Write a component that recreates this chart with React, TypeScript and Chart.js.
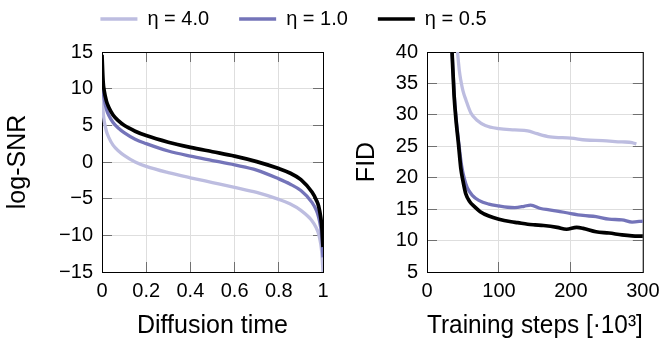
import React, { useEffect, useRef } from 'react';
import { Chart, registerables } from 'chart.js';

Chart.register(...registerables);

// ---------- data ----------
const legendLabels = ['η = 4.0', 'η = 1.0', 'η = 0.5'];
const seriesColors = ['#bdbde0', '#7474b9', '#000000'];
const seriesWidths = [3.3, 3.3, 3.7];

// left panel: log-SNR vs diffusion time
const timeSteps = [0, 0.005, 0.01, 0.02, 0.03, 0.05, 0.075, 0.1, 0.15, 0.2, 0.3, 0.4, 0.5, 0.6, 0.7, 0.8, 0.85, 0.9, 0.95, 0.97, 0.98, 0.99, 0.995, 1];
const logSnrEta4 = [10.3, 7.0, 5.6, 4.2, 3.4, 2.3, 1.5, 0.9, 0.0, -0.6, -1.45, -2.15, -2.8, -3.45, -4.15, -5.1, -5.7, -6.6, -8.0, -9.0, -9.8, -11.2, -12.5, -15];
const logSnrEta1 = [12.5, 9.8, 8.6, 7.2, 6.4, 5.4, 4.6, 4.0, 3.1, 2.5, 1.5, 0.8, 0.2, -0.4, -1.1, -2.3, -3.0, -3.9, -5.5, -6.6, -7.5, -9.0, -10.5, -13];
const logSnrEta05 = [14.6, 11.0, 9.7, 8.3, 7.5, 6.4, 5.6, 5.0, 4.2, 3.6, 2.7, 2.0, 1.4, 0.8, 0.05, -0.9, -1.5, -2.4, -4.1, -5.2, -6.0, -7.6, -9.0, -11.6];

// right panel: FID vs training steps (x 10^3)
const fidStepsEta4 = [40.5, 42.5, 45, 47, 50, 54, 61, 70, 81, 100, 122, 140, 153, 171, 200, 221, 244, 271, 285, 291];
const fidEta4 = [44, 40, 37, 35.5, 33.8, 32.4, 30.3, 29.1, 28.3, 27.8, 27.6, 27.45, 27.0, 26.5, 26.3, 26.0, 25.9, 25.7, 25.6, 25.35];
const fidStepsEta1 = [33.5, 34.9, 37.8, 40.6, 44.5, 48, 52, 56, 63, 72, 86, 100, 112, 122, 135, 144, 158, 170, 181, 200, 217, 235, 253, 271, 285, 300];
const fidEta1 = [43, 40, 33.3, 29.3, 25.2, 22, 19.8, 18.4, 17.2, 16.4, 15.8, 15.5, 15.3, 15.25, 15.45, 15.65, 15.1, 14.9, 14.7, 14.3, 14.0, 13.8, 13.4, 13.3, 12.95, 13.1];
const fidStepsEta05 = [33.5, 34.8, 37.6, 40.3, 43.9, 47, 50, 54, 60, 65, 74, 86, 100, 117, 126, 140, 150, 162, 181, 194, 208, 217, 235, 253, 271, 285, 300];
const fidEta05 = [43, 40, 33.2, 29.2, 25.2, 21.5, 19.5, 17.4, 16.1, 15.5, 14.6, 13.9, 13.4, 13.0, 12.85, 12.6, 12.5, 12.4, 12.1, 11.8, 12.1, 11.95, 11.4, 11.2, 10.9, 10.75, 10.7];

const FONT = "'Liberation Sans', Arial, Helvetica, sans-serif";
Chart.defaults.font.family = FONT;
Chart.defaults.color = '#000';

const frameTicksPlugin = {
  id: 'frameTicks',
  beforeDatasetsDraw(chart: any) {
    const { ctx, chartArea } = chart;
    const { left, right, top, bottom } = chartArea;
    const xs = chart.scales.x;
    const ys = chart.scales.y;
    const L = 10;
    ctx.save();
    ctx.lineWidth = 1;
    ctx.strokeStyle = '#707070';
    ctx.beginPath();
    xs.ticks.forEach((t: any) => {
      const px = Math.round(xs.getPixelForValue(t.value) - 0.5) + 0.5;
      if (px <= left + 1 || px >= right - 1) return;
      ctx.moveTo(px, bottom);
      ctx.lineTo(px, bottom - L);
      ctx.moveTo(px, top);
      ctx.lineTo(px, top + L);
    });
    ys.ticks.forEach((t: any) => {
      const py = Math.round(ys.getPixelForValue(t.value) - 0.5) + 0.5;
      if (py <= top + 1 || py >= bottom - 1) return;
      ctx.moveTo(left, py);
      ctx.lineTo(left + L, py);
      ctx.moveTo(right, py);
      ctx.lineTo(right - L, py);
    });
    ctx.stroke();
    ctx.strokeStyle = '#000';
    ctx.lineWidth = 1;
    ctx.strokeRect(left + 0.5, top + 0.5, right - left, bottom - top);
    ctx.restore();
  },
};

const fmtSigned = (v: any) => {
  const n = Number(v);
  return n < 0 ? '\u2212' + Math.abs(n) : String(n);
};

function makeDatasets(xsArr: number[][], ysArr: number[][], clip: any) {
  return ysArr.map((ys, i) => ({
    label: legendLabels[i],
    data: ys.map((v, j) => ({ x: xsArr[i][j], y: v })),
    borderColor: seriesColors[i],
    backgroundColor: seriesColors[i],
    borderWidth: seriesWidths[i],
    borderJoinStyle: 'round' as const,
    pointRadius: 0,
    cubicInterpolationMode: 'monotone' as const,
    fill: false,
    order: 3 - i,
    clip,
  }));
}

function panelOptions(p: {
  xMin: number; xMax: number; xStep: number; xFmt: (v: any) => string; xTitle: string;
  yMin: number; yMax: number; yStep: number; yTitle: string;
  yWidth: number; padRight: number; yTitlePad: number;
}) {
  return {
    responsive: false,
    animation: false as const,
    events: [],
    layout: { padding: { top: 0, right: p.padRight, left: 0, bottom: 0 } },
    plugins: { legend: { display: false }, tooltip: { enabled: false } },
    scales: {
      x: {
        type: 'linear' as const,
        min: p.xMin,
        max: p.xMax,
        afterFit: (s: any) => { s.height = 71; },
        ticks: {
          stepSize: p.xStep,
          padding: 7.5,
          maxRotation: 0,
          autoSkip: false,
          color: '#000',
          font: { size: 20, family: FONT },
          callback: p.xFmt,
        },
        grid: { color: '#dedede', lineWidth: 1, drawTicks: false },
        border: { display: false },
        title: {
          display: true,
          text: p.xTitle,
          color: '#000',
          font: { size: 25, family: FONT },
          padding: { top: 0, bottom: 2 },
        },
      },
      y: {
        type: 'linear' as const,
        min: p.yMin,
        max: p.yMax,
        afterFit: (s: any) => { s.width = p.yWidth; },
        ticks: {
          stepSize: p.yStep,
          padding: 9,
          color: '#000',
          font: { size: 20, family: FONT },
          callback: fmtSigned,
        },
        grid: { color: '#dedede', lineWidth: 1, drawTicks: false },
        border: { display: false },
        title: {
          display: true,
          text: p.yTitle,
          color: '#000',
          font: { size: 25, family: FONT },
          padding: { top: p.yTitlePad, bottom: 0 },
        },
      },
    },
  };
}

export default function App() {
  const legendRef = useRef<HTMLCanvasElement>(null);
  const leftRef = useRef<HTMLCanvasElement>(null);
  const rightRef = useRef<HTMLCanvasElement>(null);

  useEffect(() => {
    document.body.style.margin = '0';
    const charts: Chart[] = [];

    charts.push(new Chart(legendRef.current as HTMLCanvasElement, {
      type: 'line',
      data: {
        datasets: legendLabels.map((l, i) => ({
          label: l,
          data: [],
          borderColor: seriesColors[i],
          backgroundColor: seriesColors[i],
          pointBorderColor: seriesColors[i],
          borderWidth: seriesWidths[i],
          pointBorderWidth: seriesWidths[i],
        })),
      },
      options: {
        responsive: false,
        animation: false,
        events: [],
        layout: { padding: { left: 0, right: 80, top: 0, bottom: 0 } },
        scales: { x: { display: false }, y: { display: false } },
        plugins: {
          tooltip: { enabled: false },
          legend: {
            display: true,
            position: 'top',
            align: 'center',
            labels: {
              usePointStyle: true,
              pointStyle: 'line',
              pointStyleWidth: 37,
              padding: 30,
              color: '#000',
              font: { size: 20, family: FONT },
            },
          },
        },
      } as any,
    }));

    charts.push(new Chart(leftRef.current as HTMLCanvasElement, {
      type: 'line',
      data: {
        datasets: makeDatasets(
          [timeSteps, timeSteps, timeSteps],
          [logSnrEta4, logSnrEta1, logSnrEta05],
          undefined,
        ) as any,
      },
      options: panelOptions({
        xMin: 0, xMax: 1, xStep: 0.2,
        xFmt: (v: any) => String(Math.round(Number(v) * 10) / 10),
        xTitle: 'Diffusion time',
        yMin: -15, yMax: 15, yStep: 5, yTitle: 'log-SNR',
        yWidth: 102, padRight: 17, yTitlePad: 3,
      }) as any,
      plugins: [frameTicksPlugin],
    }));

    charts.push(new Chart(rightRef.current as HTMLCanvasElement, {
      type: 'line',
      data: {
        datasets: makeDatasets(
          [fidStepsEta4, fidStepsEta1, fidStepsEta05],
          [fidEta4, fidEta1, fidEta05],
          { left: 3, top: 0, right: 3, bottom: 3 },
        ) as any,
      },
      options: panelOptions({
        xMin: 0, xMax: 300, xStep: 100,
        xFmt: (v: any) => String(Number(v)),
        xTitle: 'Training steps [\u00B710\u00B3]',
        yMin: 5, yMax: 40, yStep: 5, yTitle: 'FID',
        yWidth: 87, padRight: 19, yTitlePad: 12.5,
      }) as any,
      plugins: [frameTicksPlugin],
    }));

    return () => charts.forEach((c) => c.destroy());
  }, []);

  return (
    <div style={{ position: 'absolute', left: 0, top: 0, width: 667, height: 343, overflow: 'hidden', background: '#fff' }}>
      <canvas ref={legendRef} width={667} height={200}
        style={{ position: 'absolute', left: 0, top: -21, width: 667, height: 200 }} />
      <canvas ref={leftRef} width={340} height={312}
        style={{ position: 'absolute', left: 0, top: 31, width: 340, height: 312 }} />
      <canvas ref={rightRef} width={327} height={312}
        style={{ position: 'absolute', left: 340, top: 31, width: 327, height: 312 }} />
    </div>
  );
}
